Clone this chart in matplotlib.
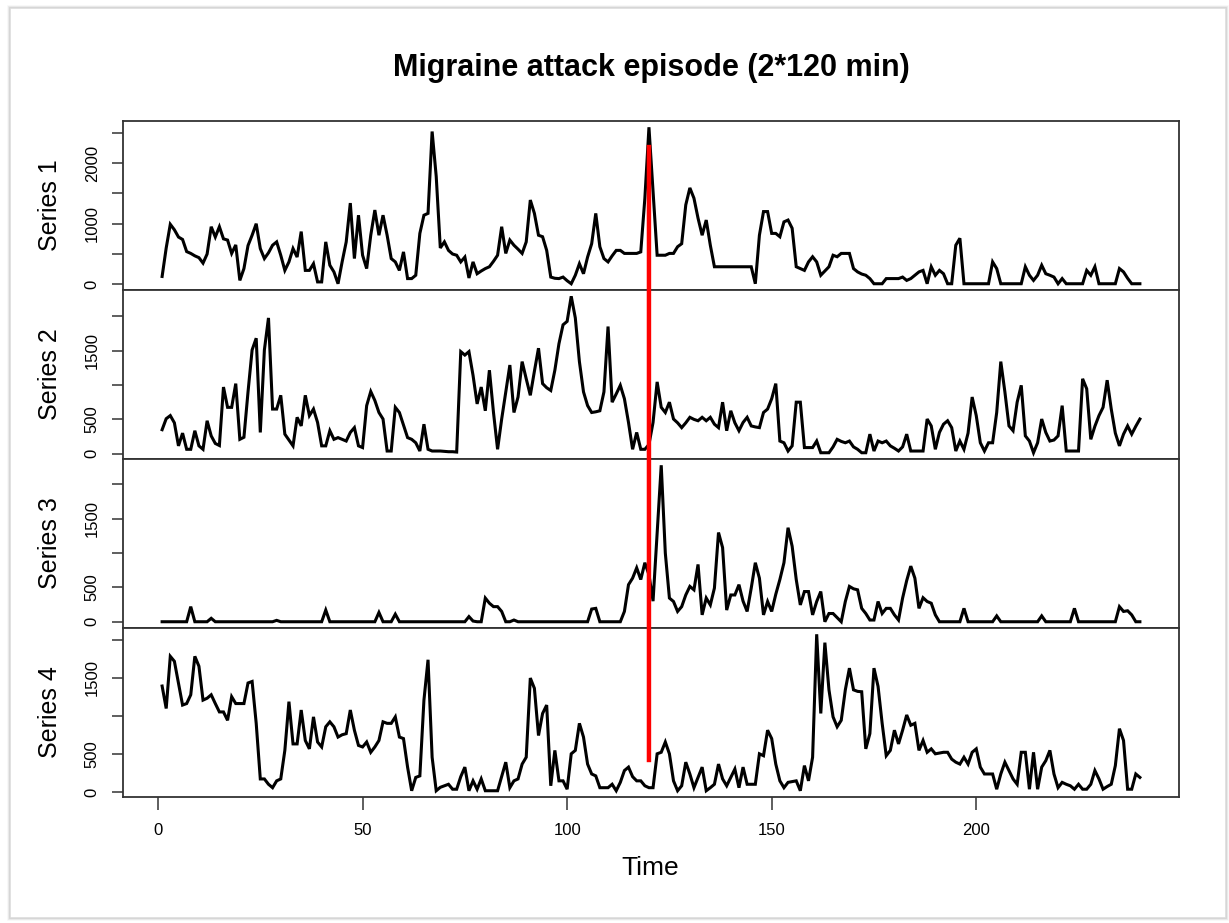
import numpy as np
import matplotlib
matplotlib.use('Agg')
import matplotlib.pyplot as plt
from matplotlib.patches import ConnectionPatch, Rectangle

title = 'Migraine attack episode (2*120 min)'
xLabel = 'Time'
seriesNames = ['Series 1', 'Series 2', 'Series 3', 'Series 4']
time = np.arange(1, 241)
onset = 120        # attack onset marker
markerTop = 2300   # red marker starts in Series 1 ...
markerBottom = 390 # ... and ends in Series 4

series1 = [
    130, 600, 990, 900, 780, 740, 540, 510, 470, 440,
    350, 500, 950, 780, 950, 750, 730, 510, 650, 65,
    260, 640, 810, 1000, 590, 425, 520, 645, 700, 480,
    230, 370, 590, 450, 870, 230, 230, 340, 40, 40,
    700, 315, 205, 10, 370, 700, 1340, 425, 1140, 480,
    260, 810, 1225, 810, 1140, 810, 425, 370, 230, 535,
    95, 95, 150, 840, 1140, 1170, 2520, 1780, 600, 700,
    560, 500, 480, 370, 450, 105, 370, 175, 220, 260,
    290, 380, 480, 950, 510, 730, 645, 580, 510, 700,
    1390, 1170, 810, 785, 560, 120, 100, 95, 120, 60,
    10, 150, 340, 175, 450, 670, 1170, 620, 425, 370,
    470, 560, 560, 510, 510, 510, 510, 535, 1420, 2590,
    1530, 480, 480, 480, 510, 510, 620, 670, 1310, 1590,
    1420, 1090, 810, 1060, 645, 290, 290, 290, 290, 290,
    290, 290, 290, 290, 290, 10, 810, 1200, 1200, 840,
    840, 785, 1030, 1060, 925, 290, 260, 230, 370, 455,
    370, 150, 220, 290, 480, 455, 510, 510, 510, 260,
    205, 170, 150, 95, 10, 10, 10, 95, 95, 95,
    95, 120, 65, 95, 150, 205, 230, 10, 290, 150,
    230, 175, 10, 10, 645, 760, 10, 10, 10, 10,
    10, 10, 10, 370, 260, 10, 10, 10, 10, 10,
    10, 290, 150, 65, 150, 315, 175, 150, 120, 10,
    95, 10, 10, 10, 10, 10, 230, 150, 290, 10,
    10, 10, 10, 10, 260, 205, 100, 10, 10, 10,
]

series2 = [
    350, 510, 555, 450, 115, 300, 65, 65, 335, 115,
    65, 480, 260, 150, 120, 970, 675, 675, 1020, 210,
    240, 900, 1510, 1680, 310, 1510, 1975, 650, 650, 850,
    285, 200, 115, 530, 405, 850, 555, 650, 455, 115,
    115, 335, 210, 235, 210, 185, 310, 380, 115, 90,
    700, 905, 775, 600, 505, 40, 40, 675, 600, 420,
    235, 210, 160, 40, 430, 65, 40, 40, 40, 35,
    30, 30, 25, 1485, 1435, 1485, 1140, 725, 970, 625,
    1215, 600, 65, 505, 900, 1290, 600, 825, 1340, 1090,
    850, 1200, 1535, 1020, 960, 920, 1215, 1600, 1875, 1925,
    2290, 1975, 1340, 900, 700, 600, 610, 625, 900, 1850,
    750, 870, 995, 800, 455, 65, 310, 65, 65, 135,
    455, 1045, 675, 600, 750, 505, 450, 380, 450, 530,
    500, 480, 530, 480, 530, 430, 380, 750, 335, 625,
    450, 335, 455, 530, 405, 390, 380, 600, 650, 800,
    1020, 185, 160, 40, 115, 750, 750, 90, 90, 90,
    185, 15, 15, 15, 100, 210, 180, 160, 185, 100,
    65, 15, 15, 285, 40, 185, 160, 185, 115, 80,
    40, 100, 285, 40, 40, 40, 40, 505, 405, 65,
    310, 430, 480, 380, 40, 185, 65, 300, 825, 555,
    160, 40, 160, 160, 600, 1340, 900, 405, 335, 750,
    995, 260, 185, 15, 160, 505, 310, 185, 200, 260,
    700, 40, 40, 40, 40, 1090, 945, 210, 400, 555,
    675, 1070, 650, 300, 115, 285, 405, 285, 400, 505,
]

series3 = [
    0, 0, 0, 0, 0, 0, 0, 220, 0, 0,
    0, 0, 50, 0, 0, 0, 0, 0, 0, 0,
    0, 0, 0, 0, 0, 0, 0, 0, 20, 0,
    0, 0, 0, 0, 0, 0, 0, 0, 0, 0,
    170, 0, 0, 0, 0, 0, 0, 0, 0, 0,
    0, 0, 0, 135, 0, 0, 0, 110, 0, 0,
    0, 0, 0, 0, 0, 0, 0, 0, 0, 0,
    0, 0, 0, 0, 0, 75, 10, 0, 0, 345,
    270, 220, 220, 150, 0, 0, 25, 0, 0, 0,
    0, 0, 0, 0, 0, 0, 0, 0, 0, 0,
    0, 0, 0, 0, 0, 185, 195, 0, 0, 0,
    0, 0, 0, 150, 540, 635, 785, 615, 860, 685,
    300, 1300, 2280, 1000, 345, 295, 150, 220, 390, 515,
    465, 835, 100, 345, 245, 490, 1300, 1080, 170, 390,
    390, 540, 300, 150, 490, 860, 635, 100, 295, 150,
    400, 615, 860, 1370, 1100, 615, 245, 440, 440, 100,
    295, 440, 0, 120, 120, 60, 0, 295, 515, 480,
    465, 195, 120, 25, 25, 295, 120, 195, 195, 100,
    25, 345, 600, 810, 635, 195, 350, 295, 270, 100,
    0, 0, 0, 0, 0, 0, 195, 0, 0, 0,
    0, 0, 0, 0, 85, 0, 0, 0, 0, 0,
    0, 0, 0, 0, 0, 85, 0, 0, 0, 0,
    0, 0, 0, 195, 0, 0, 0, 0, 0, 0,
    0, 0, 0, 0, 220, 150, 160, 100, 0, 0,
]

series4 = [
    1390, 1095, 1780, 1715, 1430, 1140, 1160, 1275, 1780, 1650,
    1205, 1230, 1275, 1160, 1050, 1050, 940, 1250, 1160, 1160,
    1160, 1430, 1450, 900, 170, 170, 100, 55, 145, 170,
    545, 1185, 630, 630, 1075, 675, 565, 985, 655, 590,
    855, 920, 855, 720, 750, 765, 1075, 810, 610, 590,
    655, 520, 590, 675, 920, 900, 900, 985, 720, 700,
    325, 15, 190, 210, 1205, 1735, 455, 15, 60, 80,
    100, 35, 35, 200, 325, 15, 145, 35, 170, 15,
    15, 15, 15, 200, 390, 55, 145, 170, 365, 455,
    1495, 1360, 740, 1030, 1140, 80, 545, 145, 145, 35,
    500, 545, 900, 720, 365, 235, 210, 55, 55, 55,
    100, 15, 125, 280, 325, 200, 145, 145, 80, 55,
    55, 500, 520, 655, 500, 145, 15, 80, 390, 235,
    55, 190, 325, 15, 55, 100, 365, 170, 80, 190,
    300, 55, 325, 100, 100, 100, 500, 475, 810, 700,
    365, 145, 55, 125, 135, 145, 15, 345, 145, 455,
    2070, 1030, 1960, 1340, 985, 855, 940, 1340, 1625, 1340,
    1320, 1315, 565, 765, 1625, 1385, 900, 475, 545, 810,
    630, 810, 1010, 875, 900, 545, 675, 520, 565, 500,
    510, 520, 520, 430, 390, 365, 455, 365, 520, 565,
    325, 235, 235, 235, 35, 235, 390, 280, 170, 100,
    520, 520, 35, 520, 35, 325, 410, 545, 235, 55,
    125, 100, 80, 35, 100, 35, 35, 100, 280, 170,
    35, 70, 100, 345, 830, 675, 35, 35, 235, 190,
]

yTicks = [
    [0, 500, 1000, 1500, 2000, 2500],
    [0, 500, 1000, 1500, 2000],
    [0, 500, 1000, 1500, 2000],
    [0, 500, 1000, 1500, 2000],
]
# R drops the labels that would overlap
yTickLabels = [
    ['0', '', '1000', '', '2000', ''],
    ['0', '500', '', '1500', ''],
    ['0', '500', '', '1500', ''],
    ['0', '500', '', '1500', ''],
]
xTicks = [0, 50, 100, 150, 200]

if __name__ == '__main__':
    plt.rcParams['font.family'] = ['Liberation Sans', 'DejaVu Sans']
    W, H = 1229, 923
    fig = plt.figure(figsize=(W / 100, H / 100), dpi=100)
    fig.patch.set_facecolor('white')

    # screenshot frame with a soft shadow
    for k, a in enumerate([0.35, 0.18, 0.08]):
        fig.patches.append(Rectangle(((10 - k) / W, (5 - k) / H), (1216 + 2 * k) / W, (910 + 2 * k) / H,
                                     transform=fig.transFigure, fill=False,
                                     edgecolor='#9a9a9a', alpha=a, lw=1.2))

    left, width = 123, 1056
    top0, panelH = 121, 169
    data = [series1, series2, series3, series4]
    axes = []
    span = time[-1] - time[0]
    for i, values in enumerate(data):
        top = top0 + panelH * i
        ax = fig.add_axes([left / W, 1 - (top + panelH) / H, width / W, panelH / H])
        ax.plot(time, values, color='black', lw=2.2, solid_joinstyle='miter')
        lo, hi = min(values), max(values)
        pad = 0.04 * (hi - lo)
        ax.set_ylim(lo - pad, hi + pad)
        ax.set_xlim(time[0] - 0.04 * span, time[-1] + 0.04 * span)

        ax.set_yticks(yTicks[i])
        ax.set_yticklabels(yTickLabels[i])
        ax.tick_params(axis='y', labelrotation=90, length=7.7, width=1.1, pad=9,
                       labelsize=12, color='#333333')
        for lab in ax.get_yticklabels():
            lab.set_va('center')

        if i < 3:
            ax.tick_params(axis='x', bottom=False, labelbottom=False)
        else:
            ax.set_xticks(xTicks)
            ax.tick_params(axis='x', length=9, width=1.1, pad=10, labelsize=12, color='#333333')

        for s in ax.spines.values():
            s.set_linewidth(1.3)
            s.set_color('#333333')

        fig.text(50 / W, 1 - (top + panelH / 2) / H, seriesNames[i], rotation=90,
                 ha='center', va='center', fontsize=18)
        axes.append(ax)

    con = ConnectionPatch(xyA=(onset, markerTop), coordsA=axes[0].transData,
                          xyB=(onset, markerBottom), coordsB=axes[3].transData,
                          color='red', lw=3.2, zorder=10)
    con.set_capstyle('butt')
    fig.add_artist(con)

    fig.text(651 / W, 1 - 68 / H, title, ha='center', va='center', fontsize=22, fontweight='bold')
    fig.text(650 / W, 1 - 868 / H, xLabel, ha='center', va='center', fontsize=19)

    fig.savefig('out.png', dpi=100)
